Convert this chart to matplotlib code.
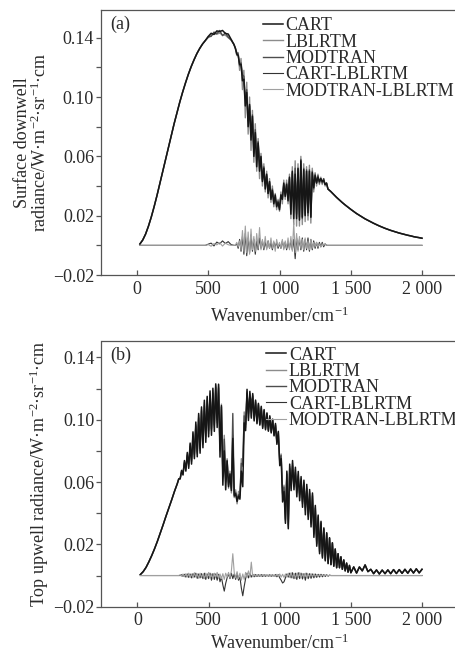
import numpy as np
from matplotlib import pyplot

pyplot.rcParams['font.family'] = ['Liberation Serif', 'DejaVu Serif']
pyplot.rcParams['mathtext.fontset'] = 'custom'
pyplot.rcParams['mathtext.rm'] = 'Liberation Serif'
pyplot.rcParams['mathtext.it'] = 'Liberation Serif:italic'

labels = ['CART', 'LBLRTM', 'MODTRAN', 'CART-LBLRTM', 'MODTRAN-LBLRTM']
colors = ['#161616', '#8c8c8c', '#4d4d4d', '#333333', '#a0a0a0']
layers = [4, 2, 3, 5, 6]

xticks = [0, 500, 1000, 1500, 2000]
xticklabels = ['0', '500', '1 000', '1 500', '2 000']
yticks = [-0.02, 0.02, 0.06, 0.10, 0.14]
yticklabels = ['\u22120.02', '0.02', '0.06', '0.10', '0.14']
yminor = [0.0, 0.04, 0.08, 0.12]

# (a) surface downwell radiance
wn_a = list(range(20, 681, 20)) + list(range(690, 1341, 10)) + list(range(1360, 2001, 20))
lblrtm_a = [
    0.0009, 0.0036, 0.0076, 0.0129, 0.0191, 0.0261, 0.0336, 0.0415, 0.0497, 0.0578,
    0.0660, 0.0741, 0.0819, 0.0894, 0.0966, 0.1033, 0.1095, 0.1153, 0.1205, 0.1251,
    0.1293, 0.1328, 0.1358, 0.1382, 0.1401, 0.1415, 0.1426, 0.1424, 0.1431, 0.1419,
    0.1417, 0.1400, 0.1385, 0.1355,
    # 690 - 1340
    0.133, 0.128, 0.130, 0.118, 0.126, 0.105, 0.118, 0.086, 0.110, 0.075,
    0.100, 0.064, 0.091, 0.056, 0.082, 0.050, 0.072, 0.045, 0.062, 0.040,
    0.055, 0.036, 0.050, 0.032, 0.045, 0.029, 0.040, 0.026, 0.035, 0.024,
    0.031, 0.023, 0.036, 0.028, 0.044, 0.031, 0.044, 0.028, 0.048, 0.018,
    0.053, 0.014, 0.057, 0.013, 0.055, 0.013, 0.060, 0.014, 0.055, 0.016,
    0.053, 0.017, 0.054, 0.015, 0.052, 0.036, 0.049, 0.040, 0.048, 0.041,
    0.046, 0.041, 0.045, 0.040, 0.042, 0.038,
    # 1360 - 2000
    0.0363, 0.0343, 0.0324, 0.0306, 0.0289, 0.0273, 0.0258, 0.0243, 0.0229, 0.0215,
    0.0203, 0.0191, 0.0179, 0.0169, 0.0159, 0.0149, 0.0140, 0.0131, 0.0123, 0.0115,
    0.0108, 0.0101, 0.0095, 0.0089, 0.0083, 0.0078, 0.0073, 0.0068, 0.0064, 0.0059,
    0.0055, 0.0052, 0.0048,
]
cart_lbl_a = [
    0, 0, 0, 0, 0, 0, 0, 0, 0, 0,
    0, 0, 0, 0, 0, 0, 0, 0, 0, 0,
    0, 0, 0, 0, 0.0008, 0.0015, -0.0004, 0.0022, 0.0010, 0.0030,
    0.0012, 0.0025, 0.0005, 0.0,
    0.0, 0.001, -0.002, 0.004, -0.004, 0.006, -0.006, 0.008, -0.007, 0.005,
    -0.005, 0.007, -0.004, 0.004, -0.006, 0.003, -0.003, 0.005, -0.002, 0.003,
    -0.003, 0.002, -0.002, 0.003, -0.002, 0.002, -0.003, 0.002, -0.001, 0.002,
    -0.002, 0.001, -0.002, 0.003, -0.002, 0.002, -0.003, 0.002, -0.002, 0.003,
    -0.003, 0.004, -0.009, 0.005, -0.003, 0.004, -0.003, 0.005, -0.004, 0.004,
    -0.003, 0.005, -0.004, 0.004, -0.003, 0.003, -0.002, 0.002, -0.002, 0.002,
    -0.001, 0.002, -0.001, 0.001, 0.0, 0.0,
    0, 0, 0, 0, 0, 0, 0, 0, 0, 0,
    0, 0, 0, 0, 0, 0, 0, 0, 0, 0,
    0, 0, 0, 0, 0, 0, 0, 0, 0, 0,
    0, 0, 0,
]
modtran_lbl_a = [
    0, 0, 0, 0, 0, 0, 0, 0, 0, 0,
    0, 0, 0, 0, 0, 0, 0, 0, 0, 0,
    0, 0, 0, 0, 0.0005, -0.0006, 0.0012, 0.0003, 0.0018, -0.0005,
    0.0015, 0.0004, 0.0, 0.0,
    0.0, 0.002, -0.001, 0.003, -0.003, 0.010, -0.004, 0.013, -0.005, 0.009,
    -0.006, 0.011, -0.003, 0.006, -0.004, 0.008, -0.002, 0.012, -0.003, 0.004,
    -0.002, 0.006, -0.003, 0.003, -0.002, 0.005, -0.002, 0.003, -0.004, 0.004,
    -0.001, 0.002, -0.002, 0.004, -0.003, 0.003, -0.002, 0.005, -0.003, 0.006,
    -0.004, 0.015, -0.005, 0.008, -0.004, 0.006, -0.002, 0.004, -0.003, 0.005,
    -0.002, 0.003, -0.003, 0.004, -0.002, 0.002, -0.001, 0.002, -0.001, 0.001,
    -0.001, 0.001, 0.0, 0.001, 0.0, 0.0,
    0, 0, 0, 0, 0, 0, 0, 0, 0, 0,
    0, 0, 0, 0, 0, 0, 0, 0, 0, 0,
    0, 0, 0, 0, 0, 0, 0, 0, 0, 0,
    0, 0, 0,
]

# (b) top upwell radiance
wn_b = list(range(20, 281, 20)) + list(range(290, 1501, 10)) + list(range(1520, 2001, 20))
lblrtm_b = [
    0.0006, 0.0025, 0.0052, 0.0088, 0.0128, 0.0172, 0.0220, 0.0272, 0.0325, 0.0380,
    0.0432, 0.0485, 0.0540, 0.0590,
    # 290 - 1500
    0.062, 0.062, 0.067, 0.065, 0.073, 0.068, 0.078, 0.070, 0.084, 0.073,
    0.091, 0.076, 0.097, 0.078, 0.103, 0.080, 0.107, 0.084, 0.111, 0.088,
    0.114, 0.091, 0.117, 0.093, 0.119, 0.095, 0.122, 0.098, 0.122, 0.080,
    0.110, 0.064, 0.090, 0.060, 0.075, 0.056, 0.067, 0.053, 0.090, 0.050,
    0.055, 0.046, 0.054, 0.050, 0.075, 0.070, 0.105, 0.095, 0.118, 0.101,
    0.117, 0.102, 0.116, 0.100, 0.112, 0.098, 0.110, 0.097, 0.108, 0.095,
    0.106, 0.094, 0.104, 0.093, 0.102, 0.092, 0.100, 0.090, 0.097, 0.085,
    0.092, 0.072, 0.078, 0.052, 0.058, 0.035, 0.066, 0.031, 0.070, 0.056,
    0.072, 0.057, 0.068, 0.053, 0.065, 0.050, 0.062, 0.046, 0.060, 0.042,
    0.057, 0.038, 0.054, 0.033, 0.052, 0.026, 0.044, 0.020, 0.038, 0.015,
    0.034, 0.012, 0.030, 0.010, 0.027, 0.008, 0.024, 0.007, 0.021, 0.006,
    0.017, 0.005, 0.014, 0.005, 0.012, 0.004, 0.010, 0.003, 0.008, 0.0022,
    0.0065, 0.0018,
    # 1520 - 2000
    0.0055, 0.0016, 0.0055, 0.0030, 0.0068, 0.0025, 0.0040, 0.0012, 0.0036, 0.0010,
    0.0035, 0.0012, 0.0036, 0.0012, 0.0038, 0.0013, 0.0038, 0.0014, 0.0040, 0.0015,
    0.0042, 0.0016, 0.0043, 0.0017, 0.0040,
]
cart_lbl_b = [
    0, 0, 0, 0, 0, 0, 0, 0, 0, 0,
    0, 0, 0, 0,
    0.0, 0.0, 0.0005, -0.0005, 0.0008, -0.001, 0.001, -0.0012, 0.001, -0.0015,
    0.0012, -0.001, 0.0015, -0.0018, 0.001, -0.0015, 0.0012, -0.002, 0.0015, -0.0025,
    0.001, -0.002, 0.0015, -0.003, 0.0012, -0.0025, 0.001, -0.003, 0.0008, -0.004,
    -0.001, -0.006, -0.010, -0.005, -0.0015, 0.001, -0.002, 0.0015, -0.002, 0.001,
    -0.0025, 0.0015, -0.003, -0.001, -0.008, -0.013, -0.007, -0.002, 0.0015, -0.0015,
    0.0012, -0.001, 0.0008, -0.0008, 0.0006, -0.0006, 0.0005, -0.0005, 0.0006, -0.0006,
    0.0005, -0.0005, 0.0004, -0.0004, 0.0005, -0.0005, 0.0004, -0.0004, 0.0006, -0.0008,
    0.0005, -0.0015, -0.003, -0.0048, -0.004, -0.0015, 0.001, -0.001, 0.0015, -0.0015,
    0.0018, -0.002, 0.0015, -0.0025, 0.0018, -0.002, 0.0015, -0.0022, 0.0012, -0.003,
    0.0015, -0.002, 0.0012, -0.0018, 0.001, -0.0015, 0.001, -0.0012, 0.0008, -0.001,
    0.0008, -0.0008, 0.0006, -0.0006, 0.0005, -0.0004, 0.0003, 0.0, 0.0, 0.0,
    0, 0, 0, 0, 0, 0, 0, 0, 0, 0,
    0, 0,
    0, 0, 0, 0, 0, 0, 0, 0, 0, 0,
    0, 0, 0, 0, 0, 0, 0, 0, 0, 0,
    0, 0, 0, 0, 0,
]
modtran_lbl_b = [
    0, 0, 0, 0, 0, 0, 0, 0, 0, 0,
    0, 0, 0, 0,
    0.0, 0.0005, -0.0005, 0.001, -0.0008, 0.0012, -0.001, 0.0015, -0.0012, 0.001,
    -0.0015, 0.0018, -0.001, 0.0012, -0.0018, 0.0015, -0.0012, 0.001, -0.002, 0.0015,
    -0.0015, 0.002, -0.0012, 0.001, -0.002, 0.0015, -0.001, 0.002, -0.0015, 0.001,
    -0.002, 0.0012, -0.0025, 0.0015, -0.001, 0.002, -0.0015, 0.003, 0.014, 0.002,
    -0.0015, 0.0025, -0.002, 0.0015, -0.003, 0.001, -0.0025, 0.002, -0.001, 0.003,
    -0.001, 0.0086, -0.0008, 0.0008, -0.0006, 0.0006, -0.0005, 0.0005, -0.0006, 0.0006,
    -0.0005, 0.0005, -0.0004, 0.0004, -0.0005, 0.0005, -0.0004, 0.0004, -0.0006, 0.0008,
    -0.0005, 0.001, -0.001, 0.0008, -0.0012, 0.001, -0.001, 0.0015, -0.0012, 0.0018,
    -0.0015, 0.0012, -0.0018, 0.0015, -0.0012, 0.0018, -0.0015, 0.0012, -0.001, 0.0015,
    -0.0012, 0.001, -0.001, 0.0012, -0.0008, 0.001, -0.0008, 0.0006, -0.0006, 0.0005,
    -0.0004, 0.0004, -0.0003, 0.0003, 0.0, 0.0, 0.0, 0.0, 0.0, 0.0,
    0, 0, 0, 0, 0, 0, 0, 0, 0, 0,
    0, 0,
    0, 0, 0, 0, 0, 0, 0, 0, 0, 0,
    0, 0, 0, 0, 0, 0, 0, 0, 0, 0,
    0, 0, 0, 0, 0,
]


def draw_fig(ax, wn, lbl, d_cart, d_mod, ytop, ylabel, tag, legend_at, xlabel_y):
    wn = np.array(wn)
    lbl = np.array(lbl)
    d_cart = np.array(d_cart)
    d_mod = np.array(d_mod)
    assert len(wn) == len(lbl) == len(d_cart) == len(d_mod), (len(wn), len(lbl), len(d_cart), len(d_mod))

    series = [lbl + d_cart, lbl, lbl + d_mod, d_cart, d_mod]
    widths = [1.1, 1.0, 1.0, 0.8, 0.8]
    for y, label, c, z, w in zip(series, labels, colors, layers, widths):
        ax.plot(wn, y, color=c, lw=w, label=label, zorder=z)

    ax.set_xlim(-253, 2253)
    ax.set_ylim(-0.02, ytop)
    ax.set_xticks(xticks)
    ax.set_xticklabels(xticklabels)
    ax.set_yticks(yticks)
    ax.set_yticklabels(yticklabels)
    ax.set_yticks(yminor, minor=True)
    ax.tick_params(axis='x', direction='in', length=3.5, width=0.9, color='#555555',
                   labelsize=13, labelcolor='#2a2a2a', pad=4)
    ax.tick_params(axis='y', which='both', direction='out', length=3.5, width=0.9,
                   color='#555555', labelsize=13, labelcolor='#2a2a2a', pad=1.5)
    for side in ['left', 'bottom', 'top']:
        ax.spines[side].set_color('#555555')
        ax.spines[side].set_linewidth(0.9)
    ax.spines['right'].set_visible(False)

    ax.set_xlabel('Wavenumber/cm$^{-1}$', fontsize=13, color='#2a2a2a')
    ax.xaxis.set_label_coords(0.5, xlabel_y)
    ax.set_ylabel(ylabel, fontsize=13, color='#2a2a2a', linespacing=1.0)
    ax.yaxis.set_label_coords(-0.143, 0.5)

    ax.text(0.025, 0.978, tag, transform=ax.transAxes, ha='left', va='top',
            fontsize=13, color='#2a2a2a')
    ax.legend(loc='upper left', bbox_to_anchor=legend_at, frameon=False, fontsize=13,
              handlelength=1.1, handletextpad=0.15, labelspacing=-0.04,
              borderpad=0, borderaxespad=0, labelcolor='#2a2a2a')


fig = pyplot.figure(figsize=(4.56, 6.55), dpi=100)
ax_a = fig.add_axes([101 / 456, 380 / 655, 357 / 456, 265 / 655])
ax_b = fig.add_axes([101.5 / 456, 48.3 / 655, 356.5 / 456, 266 / 655])

draw_fig(ax_a, wn_a, lblrtm_a, cart_lbl_a, modtran_lbl_a, 0.1587,
         'Surface downwell\nradiance/W\u00b7m$^{-2}$\u00b7sr$^{-1}$\u00b7cm', '(a)', (0.454, 0.972), -0.12)
draw_fig(ax_b, wn_b, lblrtm_b, cart_lbl_b, modtran_lbl_b, 0.1507,
         'Top upwell radiance/W\u00b7m$^{-2}$\u00b7sr$^{-1}$\u00b7cm', '(b)', (0.462, 0.977), -0.103)

fig.savefig('out.png', dpi=100)
